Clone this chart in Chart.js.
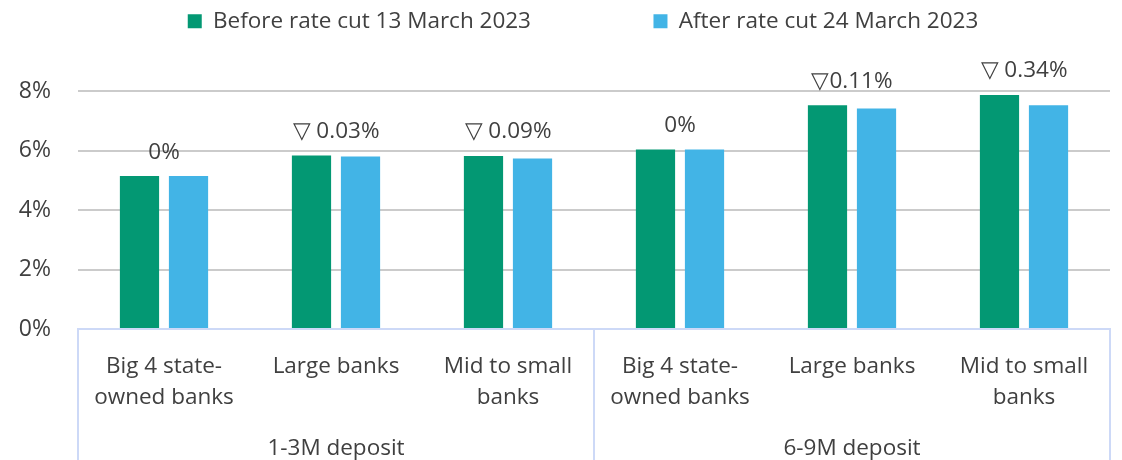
<!DOCTYPE html>
<html>
<head>
<meta charset="utf-8">
<script src="https://cdn.jsdelivr.net/npm/chart.js@4"></script>
<style>
body{margin:0;background:#fff}
</style>
</head>
<body>
<canvas id="rateChart" width="1122" height="460"></canvas>
<script>

// data
const categories=[
['Big 4 state-','owned banks'],
'Large banks',
['Mid to small','banks'],
['Big 4 state-','owned banks'],
'Large banks',
['Mid to small','banks']
]
const groups=['1-3M deposit','6-9M deposit']
const seriesNames=['Before rate cut 13 March 2023','After rate cut 24 March 2023']
const beforeCut=[5.15,5.84,5.83,6.05,7.54,7.88]
const afterCut=[5.15,5.81,5.74,6.05,7.43,7.54]
const changeLabels=['0%','\u25BD 0.03%','\u25BD 0.09%','0%','\u25BD0.11%','\u25BD 0.34%']
const yTicks=[0,2,4,6,8]

const FONT='Open Sans'
const FS=22.5
const TEXT='#404040'
const AXIS='#cdd9f7'

// group separators, group names and change labels
const extras={
id:'extras',
afterLayout(chart){
// legend sits a little right of centre in the original
chart.legend.left+=28
chart.legend.right+=28
},
afterDatasetsDraw(chart){
const ctx=chart.ctx
const x=chart.scales.x
const y=chart.scales.y
const area=chart.chartArea
const per=categories.length/groups.length

ctx.save()
ctx.font=FS+'px '+FONT
ctx.fillStyle=TEXT
ctx.textAlign='center'
ctx.textBaseline='middle'

changeLabels.forEach((t,i)=>{
let top=Math.max(beforeCut[i],afterCut[i])
ctx.fillText(t,x.getPixelForValue(i),y.getPixelForValue(top)-24)
})

ctx.strokeStyle=AXIS
ctx.lineWidth=2
let bounds=[x.left]
groups.forEach((g,gi)=>{
let a=gi*per
let b=a+per-1
let cx=(x.getPixelForValue(a)+x.getPixelForValue(b))/2
ctx.fillText(g,cx,area.bottom+120)
if(gi<groups.length-1){
bounds.push((x.getPixelForValue(b)+x.getPixelForValue(b+1))/2)
}
})
bounds.push(x.right)
bounds.forEach(bx=>{
ctx.beginPath()
ctx.moveTo(bx,area.bottom)
ctx.lineTo(bx,chart.height)
ctx.stroke()
})
ctx.restore()
}
}

new Chart(document.getElementById('rateChart'),{
type:'bar',
data:{
labels:categories,
datasets:[{
label:seriesNames[0],
data:beforeCut,
backgroundColor:'#039873'
},{
label:seriesNames[1],
data:afterCut,
backgroundColor:'#42b4e6'
}]
},
options:{
responsive:false,
animation:false,
categoryPercentage:0.57,
barPercentage:0.8,
layout:{padding:{top:0,right:12,left:0,bottom:0}},
plugins:{
tooltip:{enabled:false},
legend:{
position:'top',
labels:{
font:{family:FONT,size:FS},
color:TEXT,
boxWidth:14,
boxHeight:14,
padding:10,
generateLabels(chart){
let items=Chart.defaults.plugins.legend.labels.generateLabels(chart)
items[0].text+='\u2003\u2003\u2003\u2003\u2003'
return items
}
}
}
},
scales:{
x:{
grid:{display:false},
border:{color:AXIS,width:2},
ticks:{
font:{family:FONT,size:FS,lineHeight:1.38},
color:TEXT,
padding:14,
maxRotation:0,
autoSkip:false
},
afterFit(scale){scale.height=131}
},
y:{
min:0,
max:9.65,
border:{display:false},
grid:{color:'#cbcbcb',lineWidth:2,drawTicks:false},
afterBuildTicks(scale){scale.ticks=yTicks.map(v=>({value:v}))},
ticks:{
font:{family:FONT,size:23},
color:TEXT,
padding:27,
callback:v=>v+'%'
},
afterFit(scale){scale.width=78}
}
}
},
plugins:[extras]
})

</script>
</body>
</html>
